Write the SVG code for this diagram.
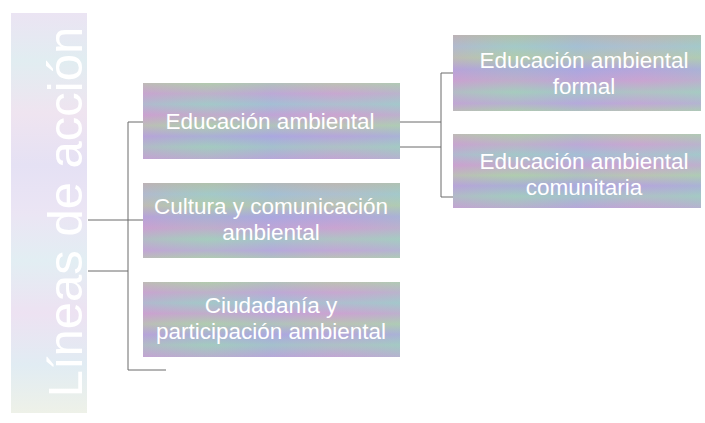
<svg xmlns="http://www.w3.org/2000/svg" width="705" height="423" viewBox="0 0 705 423">
<defs>
<linearGradient id="gv" x1="0" y1="0" x2="0" y2="1">
<stop offset="0" stop-color="#b8c9ad"/>
<stop offset="0.14" stop-color="#c6a8d2"/>
<stop offset="0.28" stop-color="#a4c6d0"/>
<stop offset="0.42" stop-color="#cba2d3"/>
<stop offset="0.56" stop-color="#b4ccae"/>
<stop offset="0.7" stop-color="#ada6e0"/>
<stop offset="0.84" stop-color="#a4c9c4"/>
<stop offset="1" stop-color="#bea6d6"/>
</linearGradient>
<linearGradient id="gv2" x1="0" y1="0" x2="0" y2="1">
<stop offset="0" stop-color="#b6bdab"/>
<stop offset="0.15" stop-color="#a4c8cf"/>
<stop offset="0.3" stop-color="#b6cbab"/>
<stop offset="0.45" stop-color="#ada5e0"/>
<stop offset="0.6" stop-color="#c8a3d3"/>
<stop offset="0.75" stop-color="#a7cbc2"/>
<stop offset="0.9" stop-color="#bca9d9"/>
<stop offset="1" stop-color="#b4c9b2"/>
</linearGradient>
<linearGradient id="gh" x1="0" y1="0" x2="1" y2="0">
<stop offset="0" stop-color="#cb9fcb" stop-opacity="0.35"/>
<stop offset="0.25" stop-color="#a2cdb2" stop-opacity="0.25"/>
<stop offset="0.5" stop-color="#a4acdf" stop-opacity="0.3"/>
<stop offset="0.75" stop-color="#cba8cb" stop-opacity="0.25"/>
<stop offset="1" stop-color="#a2cbc2" stop-opacity="0.35"/>
</linearGradient>
<linearGradient id="gl" x1="0" y1="0" x2="0" y2="1">
<stop offset="0" stop-color="#ebe4f3"/>
<stop offset="0.12" stop-color="#e1edf1"/>
<stop offset="0.25" stop-color="#efe4f0"/>
<stop offset="0.38" stop-color="#e5e1f4"/>
<stop offset="0.5" stop-color="#ebe5f4"/>
<stop offset="0.62" stop-color="#e2eef3"/>
<stop offset="0.75" stop-color="#ede2f2"/>
<stop offset="0.88" stop-color="#e1ecf3"/>
<stop offset="1" stop-color="#eef1e8"/>
</linearGradient>
</defs>
<style>
.txt{font-family:"Liberation Sans",Arial,sans-serif;font-size:22.5px;fill:#ffffff;text-anchor:middle}
.big{font-family:"Liberation Sans",Arial,sans-serif;font-size:49px;fill:#ffffff;text-anchor:middle}
.con{stroke:#6a6a6a;stroke-width:1;fill:none}
</style>
<rect width="705" height="423" fill="#ffffff"/>
<g id="connectors">
<path class="con" d="M88 220H143M88 271H128M128 122V370M128 122H143M128 370H166"/>
<path class="con" d="M400 122H441M400 147H441M441 73V197M441 73H453M441 197H453"/>
</g>
<g id="lineas">
<rect x="11" y="13" width="76" height="400" fill="url(#gl)"/>
<text class="big" transform="translate(82 212) rotate(-90)">Líneas de acción</text>
</g>
<g id="educacion">
<rect x="143" y="83" width="257" height="76" fill="url(#gv)"/>
<rect x="143" y="83" width="257" height="76" fill="url(#gh)"/>
<text class="txt" x="270" y="129">Educación ambiental</text>
</g>
<g id="cultura">
<rect x="143" y="183" width="257" height="75" fill="url(#gv2)"/>
<rect x="143" y="183" width="257" height="75" fill="url(#gh)"/>
<text class="txt" x="271" y="214">Cultura y comunicación</text>
<text class="txt" x="271" y="240">ambiental</text>
</g>
<g id="ciudadania">
<rect x="143" y="282" width="257" height="75" fill="url(#gv)"/>
<rect x="143" y="282" width="257" height="75" fill="url(#gh)"/>
<text class="txt" x="271" y="313">Ciudadanía y</text>
<text class="txt" x="271" y="339">participación ambiental</text>
</g>
<g id="formal">
<rect x="453" y="35" width="248" height="76" fill="url(#gv2)"/>
<rect x="453" y="35" width="248" height="76" fill="url(#gh)"/>
<text class="txt" x="584" y="68">Educación ambiental</text>
<text class="txt" x="584" y="94">formal</text>
</g>
<g id="comunitaria">
<rect x="453" y="134" width="248" height="74" fill="url(#gv)"/>
<rect x="453" y="134" width="248" height="74" fill="url(#gh)"/>
<text class="txt" x="584" y="169">Educación ambiental</text>
<text class="txt" x="584" y="195">comunitaria</text>
</g>
</svg>
